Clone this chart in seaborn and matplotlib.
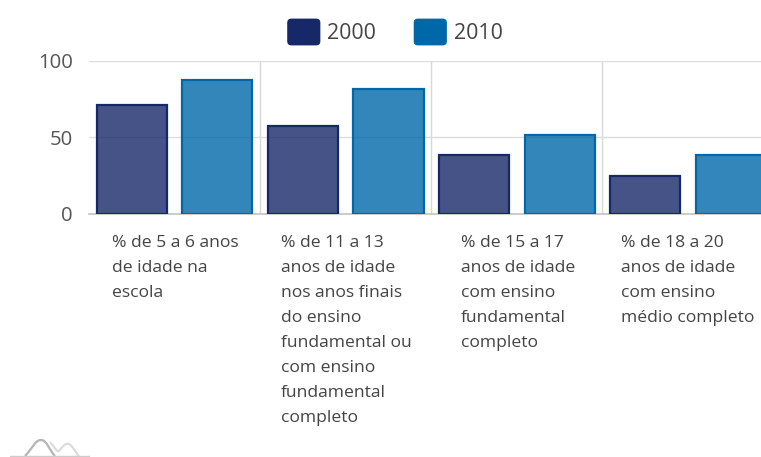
import matplotlib
matplotlib.use('Agg')
import matplotlib.pyplot as plt
import pandas as pd
import seaborn as sns
from matplotlib.colors import to_rgba
from matplotlib.legend_handler import HandlerPatch
from matplotlib.lines import Line2D
from matplotlib.patches import FancyBboxPatch, PathPatch, Patch
from matplotlib.path import Path
from matplotlib.ticker import FixedLocator
from matplotlib.transforms import ScaledTranslation

categories = [
    '% de 5 a 6 anos\nde idade na\nescola',
    '% de 11 a 13\nanos de idade\nnos anos finais\ndo ensino\nfundamental ou\ncom ensino\nfundamental\ncompleto',
    '% de 15 a 17\nanos de idade\ncom ensino\nfundamental\ncompleto',
    '% de 18 a 20\nanos de idade\ncom ensino\nmédio completo',
]
values_2000 = [71.5, 57.2, 38.4, 24.6]
values_2010 = [87.5, 81.5, 51.5, 38.4]
years = ['2000', '2010']
colors = ['#172869', '#0068a8']
label_shift = [-62.6, -64.8, -56.3, -66.8]

W, H = 761, 457


class RoundHandle(HandlerPatch):
    def create_artists(self, legend, orig, xd, yd, w, h, fs, trans):
        p = FancyBboxPatch((-xd + 1.5, -yd + 1.5), w - 3, h - 3, boxstyle='round,pad=1.5,rounding_size=3',
                           fc=orig.get_facecolor(), ec='none', transform=trans)
        return [p]


df = pd.DataFrame({
    'cat': categories * 2,
    'year': [years[0]] * 4 + [years[1]] * 4,
    'value': values_2000 + values_2010,
})

sns.set_style('white')
plt.rcParams['font.family'] = ['Open Sans', 'DejaVu Sans']

fig = plt.figure(figsize=(W / 100, H / 100), dpi=100)
ax = fig.add_axes([89 / W, 1 - 213.7 / H, (773.5 - 89) / W, 152.7 / H])
sns.barplot(df, x='cat', y='value', hue='year', palette=colors, width=1.0, gap=0.18,
            legend=False, ax=ax, zorder=3)

for i, container in enumerate(ax.containers):
    for bar in container:
        bar.set_facecolor(to_rgba(colors[i], 0.8))
        bar.set_edgecolor(colors[i])
        bar.set_linewidth(1.6)

ax.set_xlim(-0.5, 3.5)
ax.set_ylim(0, 100)
ax.set_yticks([0, 50, 100])
ax.set_xlabel('')
ax.set_ylabel('')
ax.set_axisbelow(True)
ax.xaxis.set_minor_locator(FixedLocator([0.5, 1.5, 2.5]))
ax.grid(True, axis='y', which='major', color='#dddddd', lw=1)
ax.grid(True, axis='x', which='minor', color='#d8d8d8', lw=1)
ax.grid(False, axis='x', which='major')
for s in ['top', 'left', 'right']:
    ax.spines[s].set_visible(False)
ax.spines['bottom'].set_color('#c4c4c4')
ax.spines['bottom'].set_linewidth(1.2)
ax.tick_params(axis='y', length=0, pad=11.5, labelsize=14.6, labelcolor='#555555')
ax.tick_params(axis='x', which='both', length=0, pad=15, labelsize=12.6, labelcolor='#444444')

for lab, dx in zip(ax.get_xticklabels(), label_shift):
    lab.set_ha('left')
    lab.set_va('top')
    lab.set_linespacing(1.75)
    lab.set_transform(lab.get_transform() + ScaledTranslation(dx / 100, 0, fig.dpi_scale_trans))

handles = [Patch(color=c, label=y) for c, y in zip(colors, years)]
fig.legend(handles=handles, loc='center', bbox_to_anchor=(395 / W, 1 - 32 / H), ncol=2, frameon=False,
           handler_map={Patch: RoundHandle()}, fontsize=15.4, labelcolor='#444444',
           handlelength=1.55, handleheight=1.55, handletextpad=0.33, columnspacing=1.75)

# logo faded at the bottom left
fig.add_artist(Line2D([10 / W, 89 / W], [1 - 456 / H] * 2, color='#cccccc', lw=1))
px = lambda x, y: (x / W, 1 - y / H)
hump = [px(25, 456), px(33, 448), px(35, 440), px(41, 440), px(47, 440), px(49, 450), px(55, 456)]
fig.add_artist(PathPatch(Path(hump, [Path.MOVETO] + [Path.CURVE4] * 6), fc='none', ec='#b5b5b5', lw=1.6,
                         transform=fig.transFigure))
ridge = [px(50, 442), px(54, 446), px(56, 452), px(59, 451), px(63, 446), px(65, 443), px(69, 444),
         px(73, 446), px(75, 452), px(79, 456)]
fig.add_artist(PathPatch(Path(ridge, [Path.MOVETO] + [Path.CURVE4] * 9), fc='none', ec='#dcdcdc', lw=1.6,
                         transform=fig.transFigure))

fig.savefig('out.png', dpi=100)
